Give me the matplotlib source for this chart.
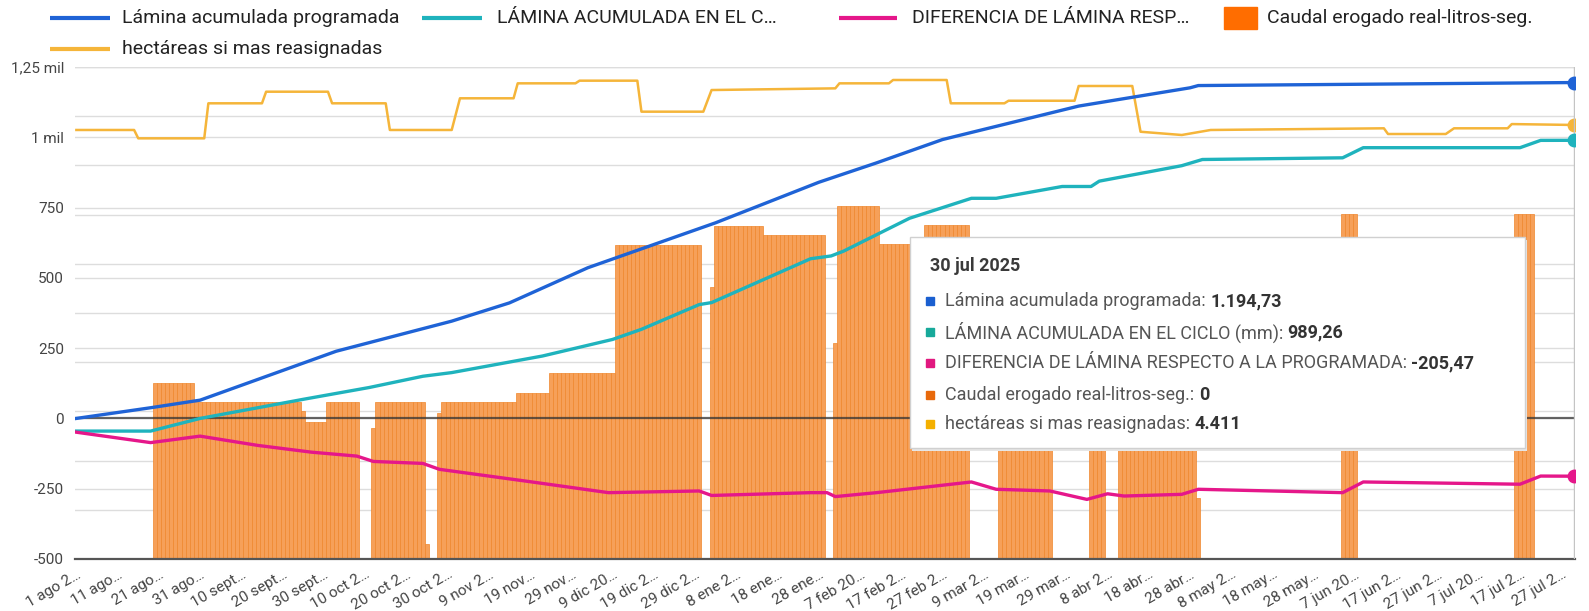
import matplotlib
matplotlib.use('Agg')
import matplotlib.pyplot as plt
from matplotlib.lines import Line2D
from matplotlib.patches import Rectangle
import pandas as pd

plt.rcParams['font.family'] = ['Roboto', 'DejaVu Sans']

# ------------------------------------------------------------------ data
prog_dates = ['2024-08-01', '2024-08-19', '2024-08-31', '2024-10-03', '2024-10-31', '2024-11-14',
              '2024-12-03', '2025-01-03', '2025-01-28', '2025-02-11', '2025-02-27', '2025-04-01',
              '2025-04-28', '2025-04-30', '2025-07-30']
prog_vals = [0, 38, 65, 239, 346, 411, 536, 696, 840, 909, 992, 1111, 1176, 1184, 1194.73]

ciclo_dates = ['2024-08-01', '2024-08-19', '2024-08-31', '2024-09-25', '2024-10-11', '2024-10-24',
               '2024-10-31', '2024-11-22', '2024-12-09', '2024-12-16', '2024-12-30', '2025-01-02',
               '2025-01-26', '2025-01-31', '2025-02-03', '2025-02-19', '2025-03-06', '2025-03-12',
               '2025-03-28', '2025-04-04', '2025-04-06', '2025-04-26', '2025-05-01', '2025-06-04',
               '2025-06-09', '2025-07-17', '2025-07-22', '2025-07-30']
ciclo_vals = [-45, -45, 0, 68, 110, 150, 163, 222, 281, 317, 405, 412, 568, 578, 595, 712, 783, 783,
              825, 825, 844, 899, 921, 927, 963, 963, 989, 989.26]

dif_dates = ['2024-08-01', '2024-08-19', '2024-08-31', '2024-09-14', '2024-09-27', '2024-10-08',
             '2024-10-12', '2024-10-24', '2024-10-28', '2024-11-18', '2024-12-08', '2024-12-30',
             '2025-01-02', '2025-01-26', '2025-01-30', '2025-02-01', '2025-02-11', '2025-03-06',
             '2025-03-12', '2025-03-25', '2025-04-03', '2025-04-08', '2025-04-12', '2025-04-26',
             '2025-04-30', '2025-06-04', '2025-06-09', '2025-07-17', '2025-07-22', '2025-07-30']
dif_vals = [-49, -86, -63, -96, -120, -134, -153, -160, -181, -223, -264, -258, -274, -264, -264,
            -278, -264, -226, -252, -258, -288, -268, -276, -270, -252, -264, -226, -234, -205,
            -205.47]

hect_dates = ['2024-08-01', '2024-08-15', '2024-08-16', '2024-09-01', '2024-09-02', '2024-09-15',
              '2024-09-16', '2024-10-01', '2024-10-02', '2024-10-15', '2024-10-16', '2024-10-31',
              '2024-11-02', '2024-11-15', '2024-11-16', '2024-11-30', '2024-12-01', '2024-12-15',
              '2024-12-16', '2024-12-31', '2025-01-02', '2025-02-01', '2025-02-02', '2025-02-14',
              '2025-02-15', '2025-02-28', '2025-03-01', '2025-03-14', '2025-03-15', '2025-03-31',
              '2025-04-01', '2025-04-14', '2025-04-16', '2025-04-26', '2025-05-03', '2025-06-14',
              '2025-06-15', '2025-06-29', '2025-07-01', '2025-07-14', '2025-07-15', '2025-07-30']
hect_vals = [4360, 4360, 4275, 4275, 4631, 4631, 4749, 4749, 4631, 4631, 4360, 4360, 4682, 4682,
             4834, 4834, 4861, 4861, 4546, 4546, 4766, 4783, 4834, 4834, 4868, 4868, 4631, 4631,
             4657, 4657, 4807, 4807, 4342, 4309, 4360, 4377, 4319, 4319, 4377, 4377, 4420, 4411]

# caudal: runs of equal daily values (start, end inclusive, value)
caudal_start = ['2024-08-20', '2024-08-30', '2024-09-25', '2024-09-26', '2024-10-01', '2024-10-12',
                '2024-10-13', '2024-10-25', '2024-10-28', '2024-10-29', '2024-11-16', '2024-11-24',
                '2024-12-10', '2025-01-02', '2025-01-03', '2025-01-15', '2025-02-01', '2025-02-02',
                '2025-02-12', '2025-02-23', '2025-03-13', '2025-04-04', '2025-04-11', '2025-04-30',
                '2025-06-04', '2025-07-16']
caudal_end = ['2024-08-29', '2024-09-24', '2024-09-25', '2024-09-30', '2024-10-08', '2024-10-12',
              '2024-10-24', '2024-10-25', '2024-10-28', '2024-11-15', '2024-11-23', '2024-12-09',
              '2024-12-30', '2025-01-02', '2025-01-14', '2025-01-29', '2025-02-01', '2025-02-11',
              '2025-02-22', '2025-03-05', '2025-03-25', '2025-04-07', '2025-04-29', '2025-04-30',
              '2025-06-07', '2025-07-20']
caudal_vals = [1785, 1599, 1500, 1395, 1599, 1331, 1599, 150, 1480, 1599, 1684, 1887, 3191, 2767,
               3387, 3293, 2192, 3591, 3198, 3394, 2800, 2800, 2800, 620, 3506, 3506]

tick_dates = pd.date_range('2024-08-01', '2025-07-27', freq='10D')
tick_labels = ['1 ago 2…', '11 ago…', '21 ago…', '31 ago…', '10 sept…', '20 sept…', '30 sept…',
               '10 oct 2…', '20 oct 2…', '30 oct 2…', '9 nov 2…', '19 nov…', '29 nov…', '9 dic 20…',
               '19 dic 2…', '29 dic 2…', '8 ene 2…', '18 ene…', '28 ene…', '7 feb 20…', '17 feb 2…',
               '27 feb 2…', '9 mar 2…', '19 mar…', '29 mar…', '8 abr 2…', '18 abr…', '28 abr…',
               '8 may 2…', '18 may…', '28 may…', '7 jun 20…', '17 jun 2…', '27 jun 2…', '7 jul 20…',
               '17 jul 2…', '27 jul 2…']
left_ticks = [-500, -250, 0, 250, 500, 750, 1000, 1250]
left_labels = ['-500', '-250', '0', '250', '500', '750', '1 mil', '1,25 mil']
right_ticks = [0, 500, 1000, 1500, 2000, 2500, 3000, 3500, 4000, 4500, 5000]

series_names = ['Lámina acumulada programada', 'LÁMINA ACUMULADA EN EL CICLO (mm)',
                'DIFERENCIA DE LÁMINA RESPECTO A LA PROGRAMADA', 'Caudal erogado real-litros-seg.',
                'hectáreas si mas reasignadas']
legend_names = ['Lámina acumulada programada', 'LÁMINA ACUMULADA EN EL C…',
                'DIFERENCIA DE LÁMINA RESP…', 'Caudal erogado real-litros-seg.',
                'hectáreas si mas reasignadas']
tip_date = '30 jul 2025'
tip_values = ['1.194,73', '989,26', '-205,47', '0', '4.411']

# ------------------------------------------------------------------ style
C_PROG = '#1f63d6'
C_CICLO = '#1fb3bd'
C_DIF = '#e5178a'
C_CAUDAL = '#ff6d00'
C_BAR = '#f6a059'
C_BAR_EDGE = '#ef862c'
C_HECT = '#f5b53a'
GRID = '#dddddd'
TXT = '#444444'

W, H = 1589, 611
fig = plt.figure(figsize=(W / 100, H / 100), dpi=100)
L, R, T, B = 75, 1575, 67, 559
rect = [L / W, 1 - B / H, (R - L) / W, (B - T) / H]


def fx(x):
    return x / W


def fy(y):
    return 1 - y / H


ax = fig.add_axes(rect)
ax2 = ax.twinx()
ax3 = fig.add_axes(rect, sharex=ax, sharey=ax)
ax.set_zorder(0)
ax2.set_zorder(1)
ax3.set_zorder(2)
ax2.patch.set_visible(False)
ax3.patch.set_visible(False)
ax3.axis('off')

for a in (ax, ax2):
    for s in a.spines.values():
        s.set_visible(False)

# left axis
ax.set_ylim(-500, 1250)
ax.set_yticks(left_ticks)
ax.set_yticklabels(left_labels, fontsize=11, color=TXT)
ax.tick_params(axis='y', length=0, pad=8)
ax.grid(axis='y', color=GRID, lw=1)
ax.set_axisbelow(True)

# right axis (its labels fall outside the visible picture)
ax2.set_ylim(0, 5000)
ax2.set_yticks(right_ticks)
ax2.set_yticklabels([])
ax2.tick_params(axis='y', length=0, pad=8)
ax2.grid(axis='y', color=GRID, lw=1)
ax2.set_axisbelow(True)

# x axis
x0 = pd.Timestamp('2024-08-01') - pd.Timedelta(hours=8)
x1 = pd.Timestamp('2025-07-30') + pd.Timedelta(hours=8)
ax.set_xlim(x0, x1)
ax.set_xticks(tick_dates)
ax.set_xticklabels(tick_labels, rotation=30, ha='right', rotation_mode='anchor',
                   fontsize=11, color=TXT)
ax.tick_params(axis='x', length=0, pad=6)

# bars (caudal) on right axis
bar_x, bar_y = [], []
for s, e, v in zip(caudal_start, caudal_end, caudal_vals):
    for d in pd.date_range(s, e, freq='D'):
        bar_x.append(d)
        bar_y.append(v)
ax2.bar(bar_x, bar_y, width=1.0, color=C_BAR, edgecolor=C_BAR_EDGE, linewidth=0.5, zorder=2)

# hectáreas on right axis
hd = pd.to_datetime(hect_dates)
ax2.plot(hd, hect_vals, color=C_HECT, lw=1.8, zorder=3)
ax2.plot(hd[-1:], hect_vals[-1:], 'o', ms=9, color=C_HECT, zorder=4)

# lines on left axis
ax3.axhline(0, color='#333333', lw=1.6, alpha=0.75, zorder=1)
ax3.axhline(-500, color='#555555', lw=1.6, zorder=1, clip_on=False)
ax3.axvline(pd.Timestamp('2025-07-30'), color='#c4c4c4', lw=1, zorder=1)
for dates, vals, c in ((prog_dates, prog_vals, C_PROG), (ciclo_dates, ciclo_vals, C_CICLO),
                       (dif_dates, dif_vals, C_DIF)):
    d = pd.to_datetime(dates)
    ax3.plot(d, vals, color=c, lw=2.4, solid_joinstyle='round', zorder=3)
    ax3.plot(d[-1:], vals[-1:], 'o', ms=9, color=c, zorder=4)
ax3.set_xlim(x0, x1)
ax3.set_ylim(-500, 1250)

# ------------------------------------------------------------------ legend
row1, row2 = 18, 49
leg_items = [
    ('line', C_PROG, 50, 110, 122, row1, legend_names[0]),
    ('line', C_CICLO, 422, 482, 497, row1, legend_names[1]),
    ('line', C_DIF, 839, 897, 912, row1, legend_names[2]),
    ('box', C_CAUDAL, 1224, 1257, 1267, row1, legend_names[3]),
    ('line', C_HECT, 50, 110, 122, row2, legend_names[4]),
]
for kind, c, a0, a1, tx, yy, lab in leg_items:
    if kind == 'line':
        fig.add_artist(Line2D([fx(a0), fx(a1)], [fy(yy), fy(yy)], color=c, lw=3,
                              solid_capstyle='butt'))
    else:
        fig.add_artist(Rectangle((fx(a0), fy(yy + 11)), fx(a1 - a0), (22 / H), color=c))
    fig.text(fx(tx), fy(yy), lab, fontsize=14, color='#222222', va='center', ha='left')

# ------------------------------------------------------------------ tooltip
bx0, bx1, by0, by1 = 910, 1525, 237, 448
fig.add_artist(Rectangle((fx(bx0 + 2), fy(by1 + 3)), fx(bx1 - bx0), (by1 - by0) / H,
                         facecolor='#e6e6e6', edgecolor='none', zorder=9))
fig.add_artist(Rectangle((fx(bx0), fy(by1)), fx(bx1 - bx0), (by1 - by0) / H,
                         facecolor='white', edgecolor='#d0d0d0', lw=1, zorder=10))
fig.text(fx(930), fy(266), tip_date, fontsize=13, fontweight='bold', color='#3a3a3a',
         va='center', ha='left', zorder=11)
tip_colors = ['#1a5fd0', '#17a99a', '#e1187f', '#e8690b', '#f4b000']
row_y = [301, 332, 363, 395, 424]
renderer = fig.canvas.get_renderer()
for name, val, c, yy in zip(series_names, tip_values, tip_colors, row_y):
    fig.add_artist(Rectangle((fx(926), fy(yy + 4)), fx(8), 8 / H, color=c, zorder=11))
    t = fig.text(fx(945), fy(yy), name + ': ', fontsize=13, color='#555555', va='center',
                 ha='left', zorder=11)
    bb = t.get_window_extent(renderer=renderer)
    fig.text(bb.x1 / W, fy(yy), val, fontsize=13, fontweight='bold', color='#333333',
             va='center', ha='left', zorder=11)

fig.savefig('out.png', dpi=100, facecolor='white')
